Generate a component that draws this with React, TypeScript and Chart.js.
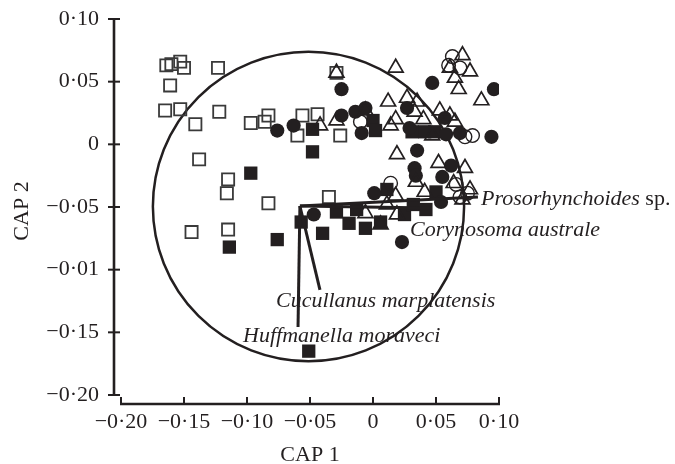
import React, { useEffect, useRef } from "react";
import { Chart, registerables } from "chart.js";

Chart.register(...registerables);

// ---- tick labels ----
const xTickValues = [-0.2, -0.15, -0.1, -0.05, 0, 0.05, 0.1];
const xTickLabels = ["−0·20", "−0·15", "−0·10", "−0·05", "0", "0·05", "0·10"];
const yTickValues = [0.1, 0.05, 0, -0.05, -0.1, -0.15, -0.2];
const yTickLabels = ["0·10", "0·05", "0", "−0·05", "−0·01", "−0·15", "−0·20"];
const xTitle = "CAP 1";
const yTitle = "CAP 2";

// ---- groups (CAP 1, CAP 2) ----
const openSquareX = [-0.164, -0.16, -0.153, -0.15, -0.123, -0.161, -0.165, -0.153, -0.141, -0.122, -0.138, -0.115, -0.116, -0.144, -0.115, -0.097, -0.086, -0.083, -0.056, -0.06, -0.044, -0.083, -0.035, -0.029, -0.026];
const openSquareY = [0.063, 0.064, 0.066, 0.061, 0.061, 0.047, 0.027, 0.028, 0.016, 0.026, -0.012, -0.028, -0.039, -0.07, -0.068, 0.017, 0.018, 0.023, 0.023, 0.007, 0.024, -0.047, -0.042, 0.057, 0.007];

const filledSquareX = [-0.097, -0.048, -0.048, -0.114, -0.076, -0.057, -0.04, -0.051, 0.0, 0.002, 0.041, 0.049, -0.029, -0.019, -0.013, -0.006, 0.006, 0.025, 0.032, 0.042, 0.011, 0.05, 0.031];
const filledSquareY = [-0.023, 0.012, -0.006, -0.082, -0.076, -0.062, -0.071, -0.165, 0.019, 0.011, 0.01, 0.01, -0.054, -0.063, -0.052, -0.067, -0.062, -0.056, -0.048, -0.052, -0.036, -0.038, 0.01];

const filledCircleX = [-0.076, -0.063, -0.047, -0.025, -0.014, -0.006, -0.009, 0.027, 0.029, 0.057, 0.069, 0.094, -0.025, 0.047, 0.096, 0.035, 0.033, 0.034, 0.055, 0.062, 0.001, 0.054, 0.023, 0.058];
const filledCircleY = [0.011, 0.015, -0.056, 0.023, 0.026, 0.029, 0.009, 0.029, 0.013, 0.021, 0.009, 0.006, 0.044, 0.049, 0.044, -0.005, -0.019, -0.025, -0.026, -0.017, -0.039, -0.046, -0.078, 0.008];

const openCircleX = [0.063, 0.06, 0.069, -0.01, 0.073, 0.079, 0.014, 0.069, 0.075, 0.066];
const openCircleY = [0.07, 0.063, 0.061, 0.018, 0.006, 0.007, -0.031, -0.042, -0.039, -0.032];

const triangleX = [-0.029, 0.018, 0.071, 0.061, 0.077, 0.065, 0.068, 0.086, -0.029, -0.042, 0.012, 0.027, 0.035, 0.018, 0.014, 0.033, 0.04, 0.053, 0.061, 0.065, 0.047, 0.019, 0.052, 0.073, 0.034, 0.041, 0.018, 0.071, 0.064, 0.011, -0.006, 0.019, 0.006, 0.077, -0.006];
const triangleY = [0.057, 0.061, 0.071, 0.061, 0.058, 0.053, 0.044, 0.035, 0.019, 0.015, 0.034, 0.037, 0.034, 0.02, 0.015, 0.026, 0.02, 0.027, 0.023, 0.018, 0.007, -0.008, -0.015, -0.019, -0.03, -0.038, -0.041, -0.044, -0.031, -0.048, -0.055, -0.056, -0.064, -0.036, 0.027];

// ---- vectors ----
const vectorOrigin = [-0.058, -0.0492];
const vectorNames = ["Prosorhynchoides", "Corynosoma australe", "Cucullanus marplatensis", "Huffmanella moraveci"];
const vectorEndX = [0.0833, 0.0452, -0.0421, -0.0595];
const vectorEndY = [-0.042, -0.0508, -0.1162, -0.1458];

// ---- correlation circle ----
const circleCenter = [-0.0512, -0.0496];
const circleRadius = 0.1235;

const INK = "#231f20";
const SERIF = '"Liberation Serif", "Times New Roman", serif';

const pts = (xs: number[], ys: number[]) => xs.map((x, i) => ({ x, y: ys[i] }));

export default function App() {
  const ref = useRef<HTMLCanvasElement | null>(null);

  useEffect(() => {
    document.body.style.margin = "0";
    const canvas = ref.current;
    if (!canvas) return;

    // pixel offsets of each label from its vector tip
    const labelOffsets = [
      [3, 8],
      [-20, 28],
      [-44, 17],
      [-55, 15],
    ];

    const decor = {
      id: "decor",
      beforeDatasetsDraw(chart: any) {
        const { ctx, scales } = chart;
        const xs = scales.x;
        const ys = scales.y;
        const cx = xs.getPixelForValue(circleCenter[0]);
        const cy = ys.getPixelForValue(circleCenter[1]);
        const rx = xs.getPixelForValue(circleCenter[0] + circleRadius) - cx;
        const ry = cy - ys.getPixelForValue(circleCenter[1] + circleRadius);
        ctx.save();
        ctx.strokeStyle = INK;
        ctx.lineWidth = 2.5;
        ctx.beginPath();
        ctx.ellipse(cx, cy, rx, ry, 0, 0, Math.PI * 2);
        ctx.stroke();
        ctx.restore();
      },
      afterDraw(chart: any) {
        const { ctx, scales, chartArea } = chart;
        const xs = scales.x;
        const ys = scales.y;
        ctx.save();
        ctx.strokeStyle = INK;
        ctx.fillStyle = INK;
        ctx.lineWidth = 2.6;
        ctx.lineCap = "butt";
        // y axis
        const ax = chartArea.left - 7;
        const yTop = ys.getPixelForValue(yTickValues[0]);
        const yBot = ys.getPixelForValue(yTickValues[yTickValues.length - 1]);
        ctx.beginPath();
        ctx.moveTo(ax, yTop - 1);
        ctx.lineTo(ax, yBot + 1);
        ctx.stroke();
        ctx.lineWidth = 2;
        yTickValues.forEach((v) => {
          const p = ys.getPixelForValue(v);
          ctx.beginPath();
          ctx.moveTo(ax - 6, p);
          ctx.lineTo(ax + 6, p);
          ctx.stroke();
        });
        // x axis
        const ay = chartArea.bottom + 9;
        const xL = xs.getPixelForValue(xTickValues[0]);
        const xR = xs.getPixelForValue(xTickValues[xTickValues.length - 1]);
        ctx.lineWidth = 2.6;
        ctx.beginPath();
        ctx.moveTo(xL - 1, ay);
        ctx.lineTo(xR + 1, ay);
        ctx.stroke();
        ctx.lineWidth = 2;
        xTickValues.forEach((v) => {
          const p = xs.getPixelForValue(v);
          ctx.beginPath();
          ctx.moveTo(p, ay - 7);
          ctx.lineTo(p, ay + 1);
          ctx.stroke();
        });
        // titles
        ctx.font = `22px ${SERIF}`;
        ctx.textAlign = "center";
        ctx.textBaseline = "middle";
        ctx.fillText(xTitle, (chartArea.left + chartArea.right) / 2, 455);
        ctx.save();
        ctx.translate(22, (chartArea.top + chartArea.bottom) / 2 + 4);
        ctx.rotate(-Math.PI / 2);
        ctx.fillText(yTitle, 0, 0);
        ctx.restore();
        // vector labels
        ctx.textAlign = "left";
        ctx.textBaseline = "alphabetic";
        vectorNames.forEach((name, i) => {
          const px = xs.getPixelForValue(vectorEndX[i]) + labelOffsets[i][0];
          const py = ys.getPixelForValue(vectorEndY[i]) + labelOffsets[i][1];
          ctx.font = `italic 22px ${SERIF}`;
          ctx.fillText(name, px, py);
          if (i === 0) {
            const w = ctx.measureText(name).width;
            ctx.font = `22px ${SERIF}`;
            ctx.fillText(" sp.", px + w, py);
          }
        });
        ctx.restore();
      },
    };

    const vectorSets = vectorNames.map((n, i) => ({
      label: n,
      data: [
        { x: vectorOrigin[0], y: vectorOrigin[1] },
        { x: vectorEndX[i], y: vectorEndY[i] },
      ],
      showLine: true,
      borderColor: INK,
      borderWidth: 3,
      pointRadius: 0,
      order: 0,
    }));

    const chart = new Chart(canvas, {
      type: "scatter",
      data: {
        datasets: [
          {
            label: "open squares",
            data: pts(openSquareX, openSquareY),
            pointStyle: "rect",
            pointRadius: 8.6,
            borderColor: "#3a3a3a",
            borderWidth: 1.8,
            backgroundColor: "rgba(0,0,0,0)",
            order: 5,
          },
          {
            label: "filled squares",
            data: pts(filledSquareX, filledSquareY),
            pointStyle: "rect",
            pointRadius: 9.4,
            borderColor: INK,
            borderWidth: 0,
            backgroundColor: INK,
            order: 4,
          },
          {
            label: "filled circles",
            data: pts(filledCircleX, filledCircleY),
            pointStyle: "circle",
            pointRadius: 7.1,
            borderColor: INK,
            borderWidth: 0,
            backgroundColor: INK,
            order: 3,
          },
          {
            label: "open circles",
            data: pts(openCircleX, openCircleY),
            pointStyle: "circle",
            pointRadius: 6.8,
            borderColor: INK,
            borderWidth: 1.4,
            backgroundColor: "rgba(0,0,0,0)",
            order: 2,
          },
          {
            label: "triangles",
            data: pts(triangleX, triangleY),
            pointStyle: "triangle",
            pointRadius: 8.6,
            borderColor: INK,
            borderWidth: 1.7,
            backgroundColor: "rgba(0,0,0,0)",
            order: 1,
          },
          ...vectorSets,
        ] as any,
      },
      options: {
        animation: false,
        responsive: true,
        maintainAspectRatio: false,
        layout: { padding: { top: 19, right: 176, left: 0, bottom: 0 } },
        plugins: { legend: { display: false }, tooltip: { enabled: false } },
        scales: {
          x: {
            type: "linear",
            min: -0.2,
            max: 0.1,
            grid: { display: false, drawTicks: false },
            border: { display: false },
            afterBuildTicks: (s: any) => {
              s.ticks = xTickValues.map((v) => ({ value: v }));
            },
            afterFit: (s: any) => {
              s.height = 69;
              s.paddingLeft = 0;
              s.paddingRight = 0;
              s.paddingTop = 0;
              s.paddingBottom = 0;
            },
            ticks: {
              autoSkip: false,
              maxRotation: 0,
              padding: 14,
              color: INK,
              font: { family: SERIF, size: 22 },
              callback: (v: any) => {
                const i = xTickValues.findIndex((t) => Math.abs(t - Number(v)) < 1e-9);
                return i >= 0 ? xTickLabels[i] : "";
              },
            },
          },
          y: {
            type: "linear",
            min: -0.2,
            max: 0.1,
            grid: { display: false, drawTicks: false },
            border: { display: false },
            afterBuildTicks: (s: any) => {
              s.ticks = yTickValues.map((v) => ({ value: v }));
            },
            afterFit: (s: any) => {
              s.width = 121;
              s.paddingLeft = 0;
              s.paddingRight = 0;
              s.paddingTop = 0;
              s.paddingBottom = 0;
            },
            ticks: {
              autoSkip: false,
              padding: 22,
              color: INK,
              font: { family: SERIF, size: 22 },
              callback: (v: any) => {
                const i = yTickValues.findIndex((t) => Math.abs(t - Number(v)) < 1e-9);
                return i >= 0 ? yTickLabels[i] : "";
              },
            },
          },
        },
      },
      plugins: [decor],
    } as any);

    return () => chart.destroy();
  }, []);

  return (
    <div style={{ position: "relative", width: 675, height: 464 }}>
      <canvas ref={ref} />
    </div>
  );
}
